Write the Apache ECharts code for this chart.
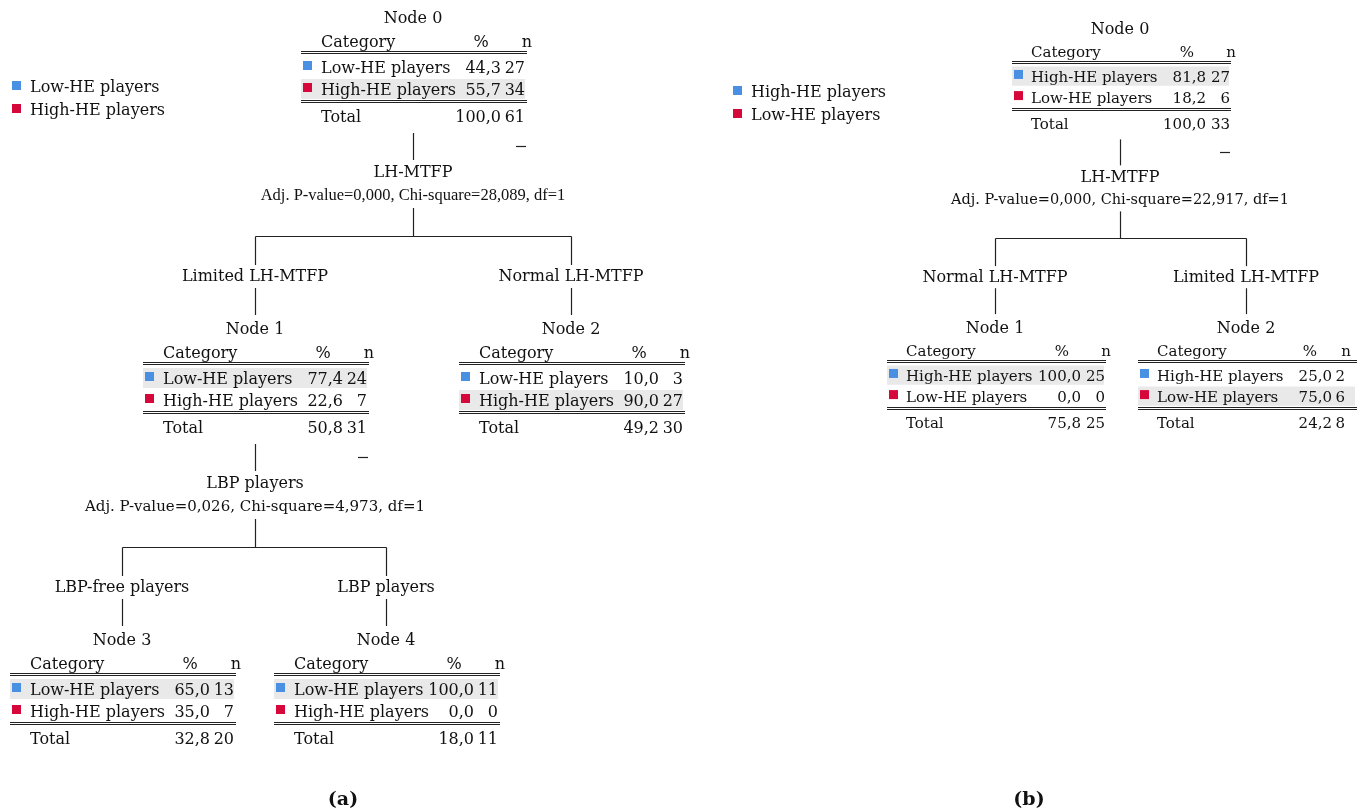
<!DOCTYPE html>
<html><head><meta charset="utf-8">
<script src="https://cdn.jsdelivr.net/npm/echarts@6/dist/echarts.min.js"></script>
<style>html,body{margin:0;padding:0;background:#fff}#c{width:1366px;height:811px}</style>
</head><body><div id="c"></div>
<script>
// ---------------- DATA: panel (a) ----------------
const catsA = ["Low-HE players", "High-HE players"];
const nodeIdsA = [0, 1, 2, 3, 4];
const parentA = [null, 0, 0, 1, 1];
const branchA = [null, "Limited LH-MTFP", "Normal LH-MTFP", "LBP-free players", "LBP players"];
const pctA = [[44.3, 55.7], [77.4, 22.6], [10.0, 90.0], [65.0, 35.0], [100.0, 0.0]];
const countA = [[27, 34], [24, 7], [3, 27], [13, 7], [11, 0]];
const totalPctA = [100.0, 50.8, 49.2, 32.8, 18.0];
const totalNA = [61, 31, 30, 20, 11];
const splitVarA = ["LH-MTFP", "LBP players", null, null, null];
const splitPA = [0.000, 0.026, null, null, null];
const splitChiA = [28.089, 4.973, null, null, null];
const splitDfA = [1, 1, null, null, null];

// ---------------- DATA: panel (b) ----------------
const catsB = ["High-HE players", "Low-HE players"];
const nodeIdsB = [0, 1, 2];
const parentB = [null, 0, 0];
const branchB = [null, "Normal LH-MTFP", "Limited LH-MTFP"];
const pctB = [[81.8, 18.2], [100.0, 0.0], [25.0, 75.0]];
const countB = [[27, 6], [25, 0], [2, 6]];
const totalPctB = [100.0, 75.8, 24.2];
const totalNB = [33, 25, 8];
const splitVarB = ["LH-MTFP", null, null];
const splitPB = [0.000, null, null];
const splitChiB = [22.917, null, null];
const splitDfB = [1, null, null];

const panelLabels = ["(a)", "(b)"];
const columnHeaders = ["Category", "%", "n"];

// ---------------- LAYOUT (positions / styles only) ----------------
const colors = ["#4a90e2", "#d6083b"];
const FONT = '"DejaVu Serif", serif';
const FONT2 = '"Liberation Serif", serif';
const layoutA = {
  nodeX: [413, 255, 571, 122, 386], rootHy: 43, levelGap: 311, s: 1,
  half: 112, tableW: 226, tableFont: 16,
  statsFont: {family: FONT, size: 15}, statsOverride: {0: {family: FONT2, size: 16.5}},
  cols: {text: 20, pctHdr: 180, nHdr: 226, pct: 200, n: 224}, colOverride: {},
  legend: {x: 12, y: 88, gap: 23}, label: {x: 343, y: 800}
};
const layoutB = {
  nodeX: [1120, 995, 1246], rootHy: 53, levelGap: 299, s: 0.96,
  half: 108, tableW: 219, tableFont: 15,
  statsFont: {family: FONT, size: 14.5}, statsOverride: {},
  cols: {text: 19, pctHdr: 175, nHdr: 219, pct: 194, n: 218},
  colOverride: {2: {pctHdr: 172, nHdr: 208, pct: 194, n: 207}},
  legend: {x: 733, y: 93, gap: 23}, label: {x: 1029, y: 800}
};

const els = [];
function T(x, y, str, o) {
  o = o || {};
  const align = o.align || 'left';
  els.push({
    type: 'text', silent: true,
    style: {
      text: str, x: x, y: y,
      font: (o.weight || 'normal') + ' ' + (o.size || 16) + 'px ' + (o.family || FONT),
      fill: o.fill || '#111',
      align: align, verticalAlign: 'middle',
      textAlign: align, textVerticalAlign: 'middle'
    }
  });
}
function Ln(x1, y1, x2, y2, w) {
  els.push({type: 'line', silent: true, shape: {x1: x1, y1: y1, x2: x2, y2: y2},
    style: {stroke: '#222', lineWidth: w || 1}});
}
function R(x, y, w, h, fill) {
  els.push({type: 'rect', silent: true, shape: {x: x, y: y, width: w, height: h}, style: {fill: fill}});
}
const f1 = v => v.toFixed(1).replace('.', ',');
const f3 = v => v.toFixed(3).replace('.', ',');

function drawPanel(D, L, labelIdx) {
  const depth = [];
  D.ids.forEach(i => { depth[i] = D.parent[i] === null ? 0 : depth[D.parent[i]] + 1; });
  const v = k => k * L.s;
  const tf = {size: L.tableFont};
  // legend
  D.cats.forEach((c, r) => {
    const y = L.legend.y + r * L.legend.gap;
    R(L.legend.x, y - 7, 9, 9, colors[r]);
    T(L.legend.x + 18, y, c);
  });
  D.ids.forEach(i => {
    const cx = L.nodeX[i];
    const hy = L.rootHy + depth[i] * L.levelGap;
    const left = cx - L.half, W = L.tableW;
    const col = Object.assign({}, L.cols, L.colOverride[i] || {});
    T(cx, hy + v(-24), 'Node ' + i, {align: 'center'});
    T(left + col.text, hy, columnHeaders[0], tf);
    T(left + col.pctHdr, hy, columnHeaders[1], {align: 'center', size: L.tableFont});
    T(left + col.nHdr, hy, columnHeaders[2], {align: 'center', size: L.tableFont});
    const hl = Math.round(hy + v(8));
    Ln(left, hl + 0.5, left + W, hl + 0.5, 1.2);
    Ln(left, hl + 2.5, left + W, hl + 2.5, 1.2);
    const cnt = D.count[i];
    const pred = cnt[0] >= cnt[1] ? 0 : 1;
    [0, 1].forEach(r => {
      const ry = hy + v(r === 0 ? 26 : 48);
      if (r === pred) R(left, ry - v(12), W - 2, v(20), '#e9e9e9');
      R(left + 2, ry - 8, 9, 9, colors[r]);
      T(left + col.text, ry, D.cats[r], tf);
      T(left + col.pct, ry, f1(D.pct[i][r]), {align: 'right', size: L.tableFont});
      T(left + col.n, ry, String(cnt[r]), {align: 'right', size: L.tableFont});
    });
    const by = Math.round(hy + v(57));
    Ln(left, by + 0.5, left + W, by + 0.5, 1.2);
    Ln(left, by + 2.5, left + W, by + 2.5, 1.2);
    const ty = hy + v(75);
    T(left + col.text, ty, 'Total', tf);
    T(left + col.pct, ty, f1(D.totalPct[i]), {align: 'right', size: L.tableFont});
    T(left + col.n, ty, String(D.totalN[i]), {align: 'right', size: L.tableFont});

    if (D.splitVar[i]) {
      Ln(cx + 0.5, hy + v(90), cx + 0.5, hy + v(117), 1.2);
      Ln(left + W - 11, Math.round(hy + v(103)) + 0.5, left + W - 1, Math.round(hy + v(103)) + 0.5, 1.2);
      T(cx, hy + v(130), D.splitVar[i], {align: 'center'});
      const sf = Object.assign({}, L.statsFont, L.statsOverride[i] || {});
      T(cx, hy + v(153), 'Adj. P-value=' + f3(D.splitP[i]) + ', Chi-square=' + f3(D.splitChi[i]) + ', df=' + D.splitDf[i],
        {align: 'center', family: sf.family, size: sf.size});
      Ln(cx + 0.5, hy + v(165), cx + 0.5, hy + v(193), 1.2);
      const kids = D.ids.filter(k => D.parent[k] === i);
      const xs = kids.map(k => L.nodeX[k]);
      const hyB = Math.round(hy + v(193)) + 0.5;
      Ln(Math.min.apply(null, xs) + 0.5, hyB, Math.max.apply(null, xs) + 0.5, hyB, 1.2);
      kids.forEach(k => {
        const kx = L.nodeX[k] + 0.5;
        Ln(kx, hyB, kx, hy + v(222), 1.2);
        T(L.nodeX[k], hy + v(234), D.branch[k], {align: 'center'});
        Ln(kx, hy + v(245), kx, hy + v(272), 1.2);
      });
    }
  });
  T(L.label.x, L.label.y, panelLabels[labelIdx], {align: 'center', weight: 'bold', size: 19});
}

drawPanel({ids: nodeIdsA, cats: catsA, parent: parentA, branch: branchA, pct: pctA, count: countA,
  totalPct: totalPctA, totalN: totalNA, splitVar: splitVarA, splitP: splitPA, splitChi: splitChiA, splitDf: splitDfA}, layoutA, 0);
drawPanel({ids: nodeIdsB, cats: catsB, parent: parentB, branch: branchB, pct: pctB, count: countB,
  totalPct: totalPctB, totalN: totalNB, splitVar: splitVarB, splitP: splitPB, splitChi: splitChiB, splitDf: splitDfB}, layoutB, 1);

const chart = echarts.init(document.getElementById('c'), null, {renderer: 'canvas'});
chart.setOption({backgroundColor: '#fff', animation: false, graphic: {elements: els}});
</script>
</body></html>
